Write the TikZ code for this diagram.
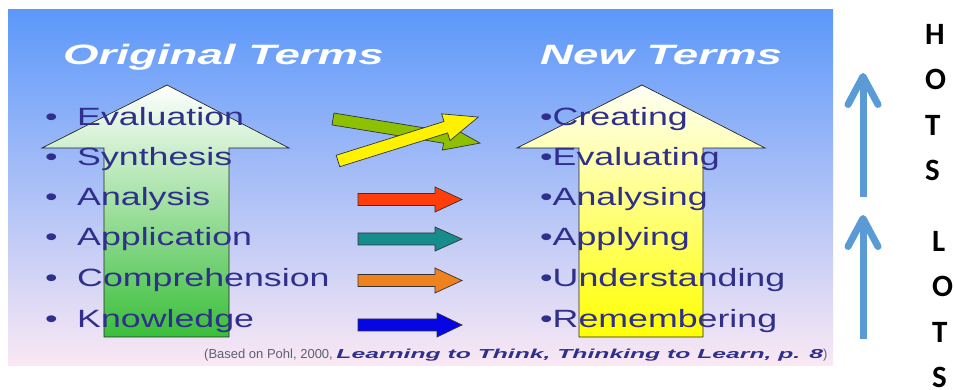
\documentclass[tikz,border=0pt]{standalone}
\usepackage{fontspec}
\setmainfont{Liberation Sans}
\newfontfamily\titlefont[FakeStretch=1.63]{Liberation Sans}
\newfontfamily\termfont[FakeStretch=1.43]{Liberation Sans}
\newfontfamily\notefont[FakeStretch=1.0]{Liberation Sans}
\newfontfamily\notebifont[FakeStretch=1.9]{Liberation Sans}
\newfontfamily\levelfont{Carlito}
\usetikzlibrary{arrows.meta}

\definecolor{skytop}{RGB}{92,152,250}
\definecolor{skymid}{RGB}{152,198,245}
\definecolor{skybot}{RGB}{250,232,244}
\definecolor{termblue}{RGB}{48,48,140}
\definecolor{notegray}{RGB}{95,95,115}
\definecolor{hotsblue}{RGB}{91,155,213}
\definecolor{arrred}{RGB}{255,62,10}
\definecolor{arrteal}{RGB}{22,140,140}
\definecolor{arrorange}{RGB}{238,130,30}
\definecolor{arrblue}{RGB}{5,5,230}
\definecolor{arrlime}{RGB}{140,192,0}

\tikzset{
  title/.style={anchor=base west, inner sep=0pt, text=white,
    font=\titlefont\bfseries\itshape\fontsize{28}{32}\selectfont},
  term/.style={anchor=base west, inner sep=0pt, text=termblue,
    font=\termfont\fontsize{25}{30}\selectfont},
  blockarrow/.style={draw=black!80, line width=0.7pt, line join=miter},
  levelarrow/.style={hotsblue, line width=7pt,
    -{Straight Barb[length=28pt,width=30pt,round]}},
  levels/.style={anchor=north west, inner sep=0pt, align=left,
    font=\levelfont\bfseries\fontsize{31}{45.5}\selectfont}
}

\begin{document}
\begin{tikzpicture}[x=1pt,y=-1pt]
  \useasboundingbox (0,0) rectangle (954,390);
  \fill[white] (0,0) rectangle (954,390);
  % slide background
  \shade[top color=skytop, middle color=skymid, bottom color=skybot]
    (8,10) rectangle (833,365);

  % the two big arrows
  \shade[draw=black!85, line width=0.7pt, top color=white,
         middle color={rgb,255:red,212;green,238;blue,202},
         bottom color={rgb,255:red,58;green,190;blue,58}]
    (167,85) -- (289,148) -- (229,148) -- (229,337) -- (104,337)
    -- (104,148) -- (42,148) -- cycle;
  \shade[draw=black!85, line width=0.7pt,
         top color={rgb,255:red,255;green,255;blue,246},
         middle color={rgb,255:red,255;green,255;blue,196},
         bottom color={rgb,255:red,255;green,255;blue,0}]
    (642,85) -- (765,148) -- (703,148) -- (703,337) -- (579,337)
    -- (579,148) -- (517,148) -- cycle;

  \node[title] (origtitle) at (63,65) {Original Terms};
  \node[title] (newtitle) at (540,65) {New Terms};

  % original terms
  \node[term] (evaluation) at (45,126) {\makebox[32pt][l]{•}Evaluation};
  \node[term] (synthesis) at (45,166) {\makebox[32pt][l]{•}Synthesis};
  \node[term] (analysis) at (45,206) {\makebox[32pt][l]{•}Analysis};
  \node[term] (application) at (45,246) {\makebox[32pt][l]{•}Application};
  \node[term] (comprehension) at (45,287) {\makebox[32pt][l]{•}Comprehension};
  \node[term] (knowledge) at (45,327) {\makebox[32pt][l]{•}Knowledge};

  % new terms
  \node[term] (creating) at (540,126) {•Creating};
  \node[term] (evaluating) at (540,166) {•Evaluating};
  \node[term] (analysing) at (540,206) {•Analysing};
  \node[term] (applying) at (540,246) {•Applying};
  \node[term] (understanding) at (540,287) {•Understanding};
  \node[term] (remembering) at (540,327) {•Remembering};

  % crossing arrows
  \draw[blockarrow, fill=arrlime, shift={(333,119)}, rotate=-9.3]
    (0,-6) -- (113,-6) -- (113,-13) -- (149,0) -- (113,13) -- (113,6)
    -- (0,6) -- cycle;
  \draw[blockarrow, fill=yellow, shift={(338,161)}, rotate=17.4]
    (0,-6) -- (113,-6) -- (113,-14) -- (147,0) -- (113,14) -- (113,6)
    -- (0,6) -- cycle;

  % straight arrows
  \draw[blockarrow, fill=arrred] (358,193.5) -- (435,193.5) -- (435,187)
    -- (462,199.5) -- (435,212) -- (435,205.5) -- (358,205.5) -- cycle;
  \draw[blockarrow, fill=arrteal] (358,233) -- (435,233) -- (435,227)
    -- (462,239) -- (435,251) -- (435,245) -- (358,245) -- cycle;
  \draw[blockarrow, fill=arrorange] (358,274.5) -- (435,274.5) -- (435,268)
    -- (462,280.5) -- (435,293) -- (435,286.5) -- (358,286.5) -- cycle;
  \draw[blockarrow, fill=arrblue] (358,319) -- (437,319) -- (437,313)
    -- (462,325) -- (437,337) -- (437,331) -- (358,331) -- cycle;

  \node[anchor=base west, inner sep=0pt, font=\fontsize{13}{15}\selectfont]
    (source) at (204,359)
    {\textcolor{notegray}{\notefont (Based on Pohl, 2000, }%
     \textcolor{termblue}{\notebifont\bfseries\itshape Learning to Think,
       Thinking to Learn, p. 8}\textcolor{notegray}{\notefont )}};

  % HOTS / LOTS
  \coordinate (hotstail) at (863,197);
  \coordinate (hotstip) at (863,73);
  \coordinate (lotstail) at (863,339);
  \coordinate (lotstip) at (863,215);
  \draw[levelarrow] (hotstail) -- (hotstip);
  \draw[levelarrow] (lotstail) -- (lotstip);
  \node[levels] (hots) at (925,24) {H\\O\\T\\S};
  \node[levels] (lots) at (932,231) {L\\O\\T\\S};
\end{tikzpicture}
\end{document}
